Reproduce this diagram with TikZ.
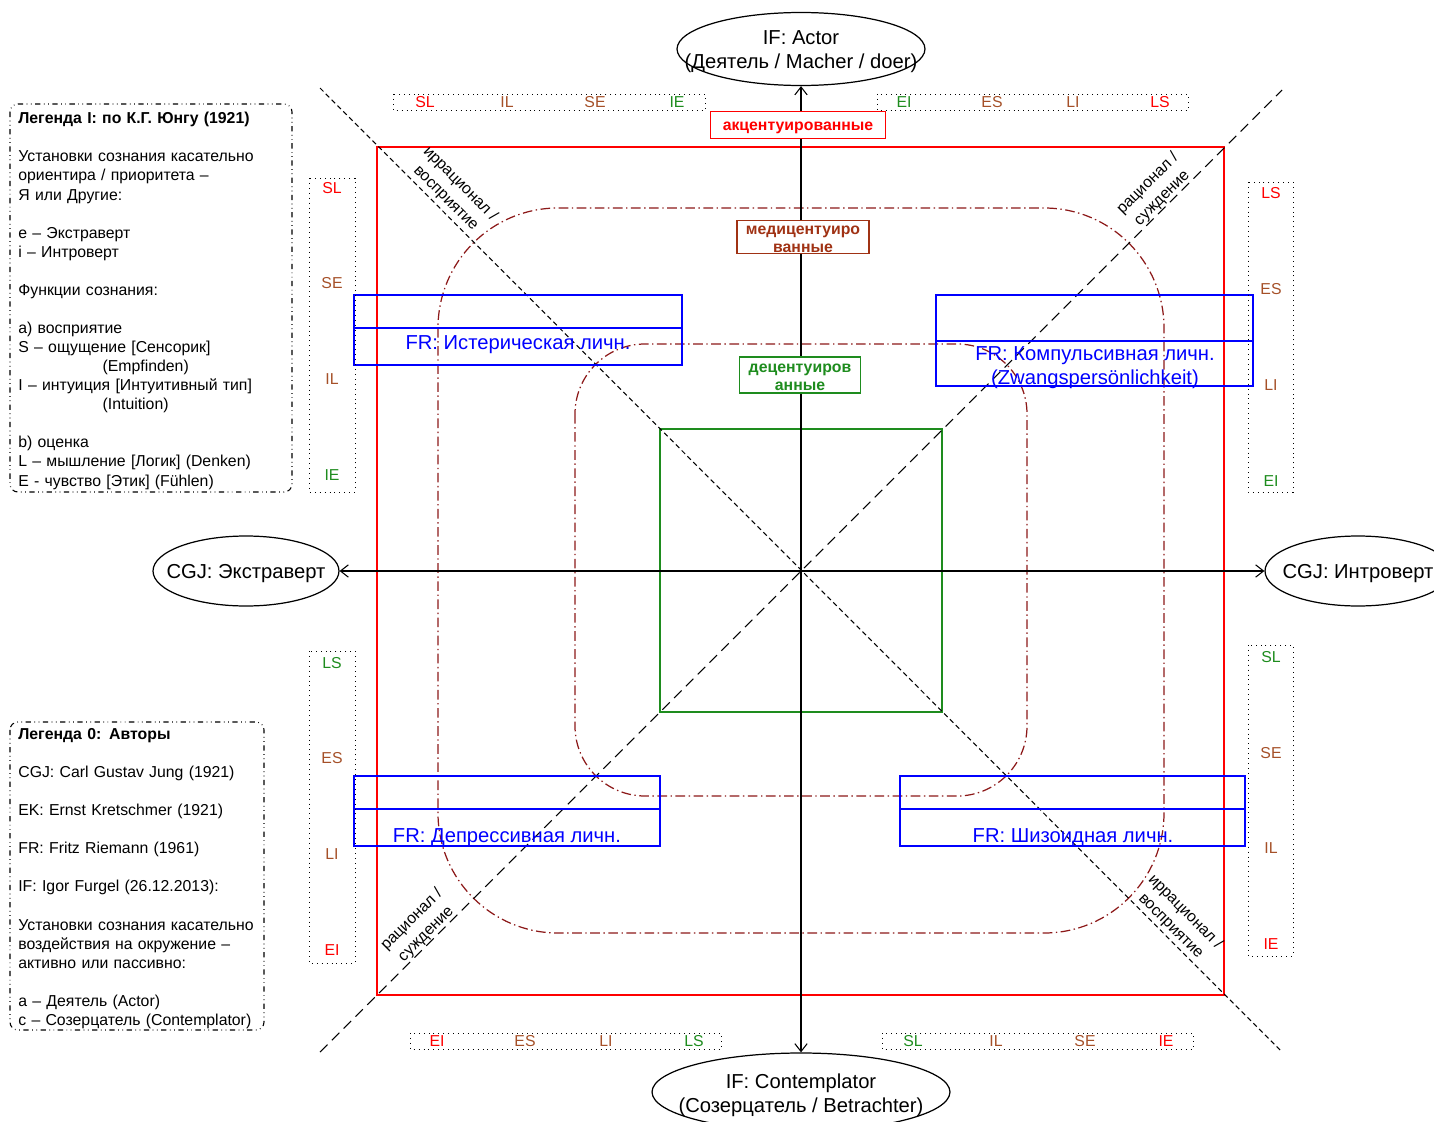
\documentclass[tikz,border=0pt]{standalone}
\usepackage{fontspec}
\setmainfont{Liberation Sans}
\usepackage{tikz}
\usetikzlibrary{shapes,arrows.meta}
\definecolor{brn}{RGB}{165,80,40}
\definecolor{grn}{RGB}{30,140,30}
\definecolor{dred}{RGB}{140,25,25}
\definecolor{mbrn}{RGB}{160,50,20}

\begin{document}
\begin{tikzpicture}[x=0.02cm,y=-0.02cm,>={Straight Barb[length=4.5pt,width=7pt]}]
\tikzstyle{oval}=[draw,ellipse,inner sep=0pt,line width=0.7pt]
\tikzstyle{big}=[font=\fontsize{11.5}{13.6}\selectfont,align=center,inner sep=0pt]
\tikzstyle{ovtext}=[big,yshift=-1.7pt]
\tikzstyle{lbl}=[font=\fontsize{9}{11.5}\selectfont,inner sep=0pt]
\tikzstyle{strip}=[line width=0.5pt,dash pattern=on 0.5pt off 2.3pt]
\tikzstyle{legbox}=[dash dot dot,line width=0.6pt,rounded corners=4.5pt]
\tikzstyle{legtext}=[font=\fontsize{9}{10.85}\selectfont,align=left,anchor=north west,inner sep=0pt,text width=150pt]
\tikzstyle{frbox}=[draw=blue,line width=0.8pt]
\tikzstyle{frtext}=[big,text=blue]
\tikzstyle{tagbox}=[line width=0.8pt,fill=white,inner sep=0pt]
\tikzstyle{tag}=[font=\fontsize{9}{10.2}\selectfont\bfseries,align=center,inner sep=0pt,yshift=-1.5pt]
\tikzstyle{ring}=[draw=dred,line width=0.7pt,dash pattern=on 5.5pt off 2pt on 0.8pt off 2pt]
\useasboundingbox (0,0) rectangle (1434,1122);

\draw[red,line width=0.8pt] (377,147) rectangle (1224,995);
\draw[grn,line width=0.8pt] (660,429) rectangle (942,712);
\draw[ring,rounded corners=2.4cm] (438,208) rectangle (1164,933);
\draw[ring,rounded corners=1.4cm] (575,344) rectangle (1027,796);

\coordinate (nw) at (320,88);
\coordinate (se) at (1282,1052);
\coordinate (sw) at (320,1052);
\coordinate (ne) at (1282,90);
\draw[line width=0.6pt,dash pattern=on 2.8pt off 1.9pt] (nw) -- (se);
\draw[line width=0.6pt,dash pattern=on 6pt off 3.5pt] (sw) -- (ne);

\node[oval,minimum width=4.96cm,minimum height=1.46cm] (actor) at (801,49) {};
\node[ovtext] (actortxt) at (actor) {IF: Actor\\(Деятель / Macher / doer)};
\node[oval,minimum width=5.96cm,minimum height=1.56cm] (contempl) at (801,1092) {};
\node[ovtext] (contempltxt) at (contempl) {IF: Contemplator\\(Созерцатель / Betrachter)};
\node[oval,minimum width=3.72cm,minimum height=1.4cm] (extra) at (246,571) {};
\node[ovtext] (extratxt) at (extra) {CGJ: Экстраверт};
\node[oval,minimum width=3.72cm,minimum height=1.4cm] (intro) at (1358,571) {};
\node[ovtext] (introtxt) at (intro) {CGJ: Интроверт};

\draw[<->,line width=0.6pt] (actor) -- (contempl);
\draw[<->,line width=0.6pt] (extra) -- (intro);

\node[tagbox,draw=red,minimum width=3.5cm,minimum height=0.54cm] (accent) at (798,125) {};
\node[tag,text=red] (accenttxt) at (accent) {акцентуированные};
\node[tagbox,draw=mbrn,minimum width=2.64cm,minimum height=0.66cm] (medi) at (803,237) {};
\node[tag,text=mbrn] (meditxt) at (medi) {медицентуиро\\ванные};
\node[tagbox,draw=grn,minimum width=2.42cm,minimum height=0.72cm] (decent) at (800,375) {};
\node[tag,text=grn] (decenttxt) at (decent) {децентуиров\\анные};

\draw[frbox] (354,295) rectangle (682,365) (354,328) -- (682,328);
\node[frtext] (hyst) at (518,345) {FR: Истерическая личн.};
\draw[frbox] (936,295) rectangle (1253,386) (936,341) -- (1253,341);
\node[frtext] (compul) at (1095,368) {FR: Компульсивная личн.\\(Zwangspersönlichkeit)};
\draw[frbox] (354,776) rectangle (660,846) (354,809) -- (660,809);
\node[frtext] (depr) at (507,838) {FR: Депрессивная личн.};
\draw[frbox] (900,776) rectangle (1245,846) (900,809) -- (1245,809);
\node[frtext] (schiz) at (1073,838) {FR: Шизоидная личн.};

\draw[strip] (393,94) rectangle (705,110);
\node[lbl,text=red] (tlSL) at (425,102) {SL};
\node[lbl,text=brn] (tlIL) at (507,102) {IL};
\node[lbl,text=brn] (tlSE) at (595,102) {SE};
\node[lbl,text=grn] (tlIE) at (677,102) {IE};
\draw[strip] (877,94) rectangle (1188,110);
\node[lbl,text=grn] (trEI) at (904,102) {EI};
\node[lbl,text=brn] (trES) at (992,102) {ES};
\node[lbl,text=brn] (trLI) at (1073,102) {LI};
\node[lbl,text=red] (trLS) at (1160,102) {LS};
\draw[strip] (309,178) rectangle (355,492);
\node[lbl,text=red] (ltSL) at (332,188) {SL};
\node[lbl,text=brn] (ltSE) at (332,283) {SE};
\node[lbl,text=brn] (ltIL) at (332,379) {IL};
\node[lbl,text=grn] (ltIE) at (332,475) {IE};
\draw[strip] (1248,182) rectangle (1293,492);
\node[lbl,text=red] (rtLS) at (1271,193) {LS};
\node[lbl,text=brn] (rtES) at (1271,289) {ES};
\node[lbl,text=brn] (rtLI) at (1271,385) {LI};
\node[lbl,text=grn] (rtEI) at (1271,481) {EI};
\draw[strip] (309,651) rectangle (355,963);
\node[lbl,text=grn] (lbLS) at (332,663) {LS};
\node[lbl,text=brn] (lbES) at (332,758) {ES};
\node[lbl,text=brn] (lbLI) at (332,854) {LI};
\node[lbl,text=red] (lbEI) at (332,950) {EI};
\draw[strip] (1248,645) rectangle (1293,956);
\node[lbl,text=grn] (rbSL) at (1271,657) {SL};
\node[lbl,text=brn] (rbSE) at (1271,753) {SE};
\node[lbl,text=brn] (rbIL) at (1271,848) {IL};
\node[lbl,text=red] (rbIE) at (1271,944) {IE};
\draw[strip] (410,1033) rectangle (721,1049);
\node[lbl,text=red] (blEI) at (437,1041) {EI};
\node[lbl,text=brn] (blES) at (525,1041) {ES};
\node[lbl,text=brn] (blLI) at (606,1041) {LI};
\node[lbl,text=grn] (blLS) at (694,1041) {LS};
\draw[strip] (882,1033) rectangle (1193,1049);
\node[lbl,text=grn] (brSL) at (913,1041) {SL};
\node[lbl,text=brn] (brIL) at (996,1041) {IL};
\node[lbl,text=brn] (brSE) at (1085,1041) {SE};
\node[lbl,text=red] (brIE) at (1166,1041) {IE};

\node[lbl,align=center,rotate=-45] (irrN) at (453,191) {иррационал /\\восприятие};
\node[lbl,align=center,rotate=45] (ratN) at (1155,191) {рационал /\\суждение};
\node[lbl,align=center,rotate=45] (ratS) at (419,927) {рационал /\\суждение};
\node[lbl,align=center,rotate=-45] (irrS) at (1178,919) {иррационал /\\восприятие};

\draw[legbox] (10,104) rectangle (292,492);
\node[legtext] (legI) at (18,112) {\textbf{Легенда I: по К.Г. Юнгу (1921)}\\[10.85pt]
Установки сознания касательно\\ориентира / приоритета –\\Я или Другие:\\[10.85pt]
e – Экстраверт\\i – Интроверт\\[10.85pt]
Функции сознания:\\[10.85pt]
a) восприятие\\S – ощущение [Сенсорик]\\\hspace*{48pt}(Empfinden)\\I – интуиция [Интуитивный тип]\\\hspace*{48pt}(Intuition)\\[10.85pt]
b) оценка\\L – мышление [Логик] (Denken)\\E - чувство [Этик] (Fühlen)};
\draw[legbox] (10,722) rectangle (264,1030);
\node[legtext] (leg0) at (18,728) {\textbf{Легенда 0: Авторы}\\[10.85pt]
CGJ: Carl Gustav Jung (1921)\\[10.85pt]
EK: Ernst Kretschmer (1921)\\[10.85pt]
FR: Fritz Riemann (1961)\\[10.85pt]
IF: Igor Furgel (26.12.2013):\\[10.85pt]
Установки сознания касательно\\воздействия на окружение –\\активно или пассивно:\\[10.85pt]
a – Деятель (Actor)\\c – Созерцатель (Contemplator)};
\end{tikzpicture}
\end{document}
